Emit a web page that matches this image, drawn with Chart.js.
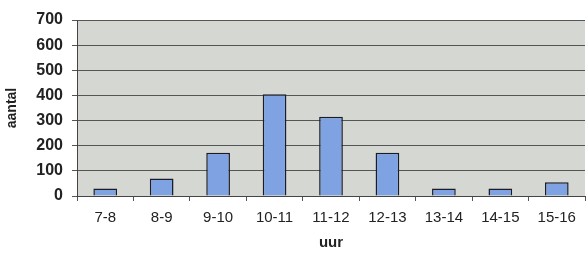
<!DOCTYPE html>
<html>
<head>
<meta charset="utf-8">
<script src="https://cdn.jsdelivr.net/npm/chart.js@4/dist/chart.umd.min.js"></script>
<style>
  html, body { margin: 0; padding: 0; background: #fff; }
  #wrap { width: 588px; height: 256px; }
</style>
</head>
<body>
<div id="wrap"><canvas id="uurChart" width="588" height="256"></canvas></div>
<script>
// data
const categories = ['7-8', '8-9', '9-10', '10-11', '11-12', '12-13', '13-14', '14-15', '15-16'];
const counts = [30, 70, 172, 405, 315, 172, 30, 30, 55];
const yTicks = [0, 100, 200, 300, 400, 500, 600, 700];

// grey plot background
const plotBg = {
    id: 'plotBg',
    beforeDraw(chart) {
        const a = chart.chartArea;
        const ctx = chart.ctx;
        ctx.save();
        ctx.fillStyle = '#d5d8d2';
        ctx.fillRect(a.left, a.top, a.right - a.left, a.bottom - a.top);
        ctx.restore();
    }
};

const ctx = document.getElementById('uurChart').getContext('2d');
new Chart(ctx, {
    type: 'bar',
    data: {
        labels: categories,
        datasets: [{
            label: 'aantal',
            data: counts,
            backgroundColor: '#7fa2e2',
            borderColor: '#1c1c28',
            borderWidth: 1.5,
            barPercentage: 0.42,
            categoryPercentage: 1
        }]
    },
    options: {
        responsive: false,
        animation: false,
        layout: { padding: { top: 20, right: 3, left: 0, bottom: 0 } },
        plugins: {
            legend: { display: false },
            tooltip: { enabled: false }
        },
        scales: {
            x: {
                grid: {
                    offset: true,
                    drawOnChartArea: false,
                    color: '#555',
                    tickLength: 5
                },
                border: { color: '#444', width: 1 },
                ticks: {
                    color: '#222',
                    font: { family: 'Liberation Sans, Arial', size: 15 },
                    padding: 8,
                    maxRotation: 0
                },
                title: {
                    display: true,
                    text: 'uur',
                    color: '#222',
                    font: { family: 'Liberation Sans, Arial', size: 15, weight: 'bold' },
                    padding: { top: 10 }
                },
                afterFit(scale) { scale.height = 60; }
            },
            y: {
                min: 0,
                max: 700,
                afterBuildTicks(scale) { scale.ticks = yTicks.map(v => ({ value: v })); },
                grid: { color: '#555', tickLength: 5 },
                border: { color: '#444', width: 1 },
                ticks: {
                    color: '#222',
                    font: { family: 'Liberation Sans, Arial', size: 16, weight: 'bold' },
                    padding: 9
                },
                title: {
                    display: true,
                    text: 'aantal',
                    color: '#222',
                    font: { family: 'Liberation Sans, Arial', size: 14, weight: 'bold' },
                    padding: { top: 4, bottom: 0 }
                },
                afterFit(scale) { scale.width = 77; }
            }
        }
    },
    plugins: [plotBg]
});
</script>
</body>
</html>
